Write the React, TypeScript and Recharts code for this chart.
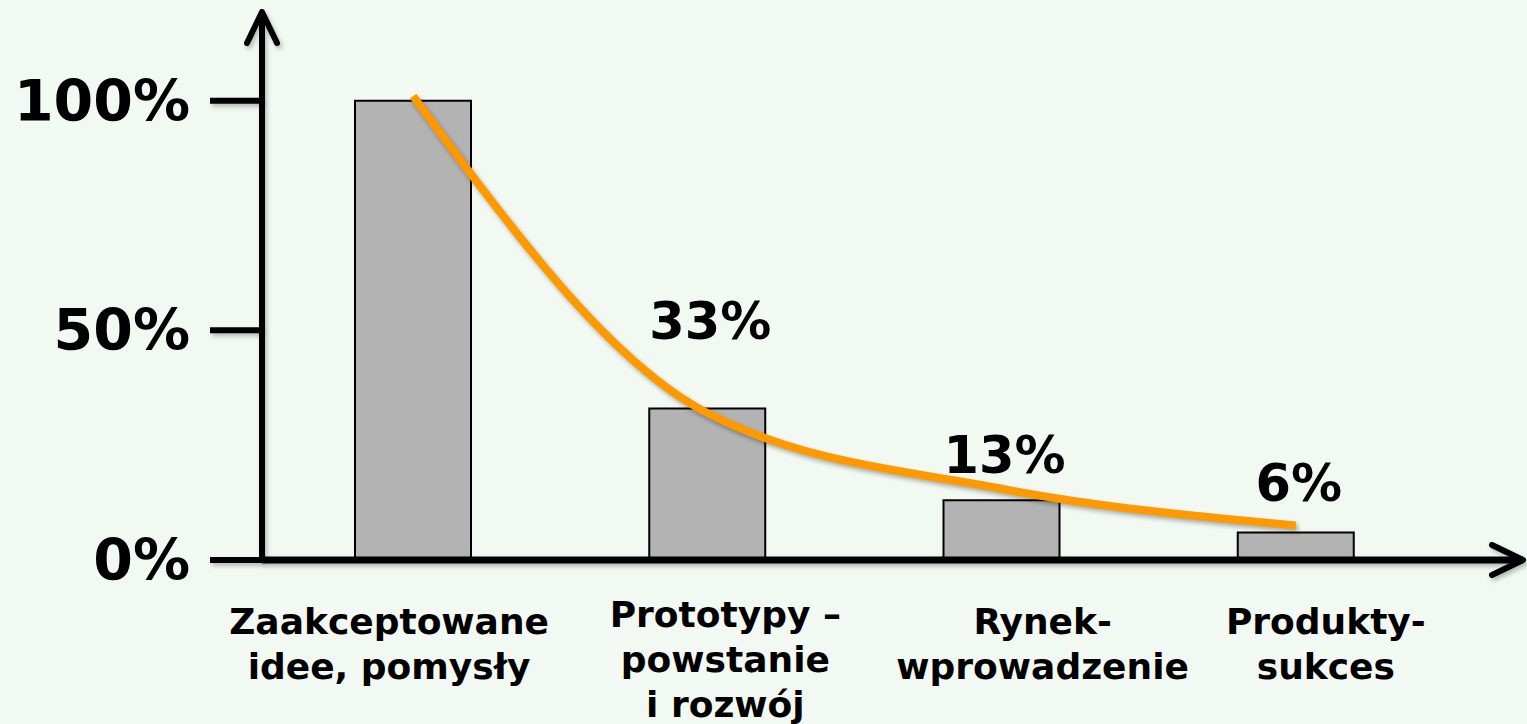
import { ComposedChart, Bar, Line, XAxis, YAxis } from 'recharts';

const categoryLines = [
  ['Zaakceptowane', 'idee, pomysły'],
  ['Prototypy –', 'powstanie', 'i rozwój'],
  ['Rynek-', 'wprowadzenie'],
  ['Produkty-', 'sukces'],
];
const barValues = [100, 33, 13, 6];
const trendValues = [101, 32, 15.5, 7.5];
const valueLabels = ['', '33%', '13%', '6%'];
const yTicks = [0, 50, 100];
const yTickLabels = ['0%', '50%', '100%'];

const data = categoryLines.map((lines, i) => ({
  name: lines.join(' '),
  value: barValues[i],
  trend: trendValues[i],
  label: valueLabels[i],
}));

const FONT = '"DejaVu Sans", Verdana, sans-serif';
// vertical gap between bar top and its value label, and label nudges
const labelGap = [0, 69, 27, 31];
const tickShift = [-24, 18, 41, 30];

const XTick = (props: any) => {
  const { x, index } = props;
  const lines = categoryLines[index] || [];
  const first = lines.length > 2 ? 627 : 634;
  const cx = x + (tickShift[index] || 0);
  return (
    <text x={cx} y={first} textAnchor="middle" fontFamily={FONT} fontWeight="bold" fontSize={36} fill="#000">
      {lines.map((l, i) => (
        <tspan key={i} x={cx} dy={i === 0 ? 0 : 45}>{l}</tspan>
      ))}
    </text>
  );
};

const YTick = (props: any) => {
  const { x, y, payload } = props;
  const i = yTicks.indexOf(payload.value);
  return (
    <text x={x} y={y + 20} textAnchor="end" fontFamily={FONT} fontWeight="bold" fontSize={57} fill="#000">
      {yTickLabels[i]}
    </text>
  );
};

const ValueLabel = (props: any) => {
  const { x, y, width, index } = props;
  const text = valueLabels[index];
  if (!text) return null;
  return (
    <text x={x + width / 2 + 3} y={y - labelGap[index]} textAnchor="middle" fontFamily={FONT} fontWeight="bold" fontSize={51} fill="#000">
      {text}
    </text>
  );
};

export default function App() {
  return (
    <div style={{ position: 'absolute', left: 0, top: 0, width: 1527, height: 724, background: '#f2f9f2' }}>
      <style>{`
        .recharts-line-curve { filter: drop-shadow(2px 3px 2px rgba(0,0,0,0.3)); }
        .recharts-cartesian-axis-line, .recharts-cartesian-axis-tick-line { filter: drop-shadow(2px 3px 2px rgba(0,0,0,0.25)); }
      `}</style>
      <svg width={0} height={0} style={{ position: 'absolute' }}>
        <defs>
          <marker id="chev" markerUnits="userSpaceOnUse" orient="auto-start-reverse" refX={0} refY={0}
            markerWidth={50} markerHeight={50} viewBox="-40 -25 50 50" overflow="visible">
            <path d="M -31 -15 L 0 0 L -31 15" fill="none" stroke="#000" strokeWidth={6}
              strokeLinecap="round" strokeLinejoin="round" />
          </marker>
        </defs>
      </svg>
      <ComposedChart width={1527} height={724} data={data} margin={{ top: 12, right: 4, left: 0, bottom: 0 }}>
        <XAxis
          dataKey="name"
          height={164}
          padding={{ left: 4, right: 80 }}
          axisLine={{ stroke: '#000', strokeWidth: 7, markerEnd: 'url(#chev)' }}
          tickLine={false}
          tick={<XTick />}
          interval={0}
        />
        <YAxis
          width={262}
          domain={[0, 119.3]}
          ticks={yTicks}
          allowDataOverflow
          axisLine={{ stroke: '#000', strokeWidth: 6, markerStart: 'url(#chev)' }}
          tickLine={{ stroke: '#000', strokeWidth: 6 }}
          tickSize={52}
          tickMargin={20}
          tick={<YTick />}
        />
        <Bar dataKey="value" barSize={116} fill="#b3b3b3" stroke="#000" strokeWidth={2}
          isAnimationActive={false} label={<ValueLabel />} />
        <Line dataKey="trend" type="monotone" stroke="#ff9900" strokeWidth={8} dot={false}
          strokeLinecap="butt" isAnimationActive={false} />
      </ComposedChart>
    </div>
  );
}
